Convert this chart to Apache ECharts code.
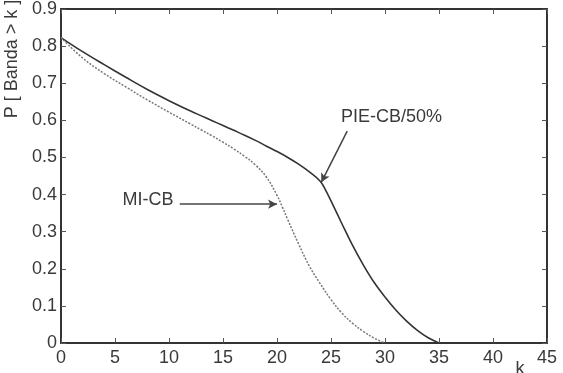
<!DOCTYPE html>
<html><head><meta charset="utf-8">
<script src="https://cdn.jsdelivr.net/npm/echarts@6/dist/echarts.min.js"></script>
<style>html,body{margin:0;padding:0;background:#fff}#c{width:563px;height:373px}</style>
</head><body><div id="c"></div>
<script>
// Data
var pieK = [0, 2, 4, 6, 8, 10, 12, 13, 14, 15, 16, 17, 18, 19, 20, 21, 22, 23, 24, 24.5, 25, 26, 27, 28, 29, 30, 31, 32, 33, 34, 35];
var pieP = [0.823, 0.785, 0.75, 0.716, 0.683, 0.653, 0.625, 0.612, 0.599, 0.586, 0.573, 0.56, 0.546, 0.531, 0.516, 0.5, 0.482, 0.461, 0.436, 0.412, 0.383, 0.322, 0.263, 0.21, 0.163, 0.124, 0.089, 0.059, 0.034, 0.014, 0.0];
var miK = [0, 2, 4, 6, 8, 10, 12, 13, 14, 15, 16, 17, 18, 19, 20, 20.5, 21, 22, 23, 24, 25, 26, 27, 28, 29, 30];
var miP = [0.823, 0.768, 0.726, 0.69, 0.655, 0.622, 0.59, 0.574, 0.558, 0.541, 0.523, 0.503, 0.48, 0.448, 0.398, 0.366, 0.332, 0.267, 0.207, 0.16, 0.117, 0.081, 0.053, 0.031, 0.013, 0.0];
var xTicks = ['0','5','10','15','20','25','30','35','40','45'];
var yTicks = ['0','0.1','0.2','0.3','0.4','0.5','0.6','0.7','0.8','0.9'];
var seriesNames = ['PIE-CB/50%', 'MI-CB'];
var labelPos = [[30.6, 0.608], [8.06, 0.385]];
var arrowFrom = [[26.5, 0.571], [11.0, 0.374]];
var arrowTo = [[24.1, 0.433], [20.0, 0.374]];
var yName = 'P [ Banda > k ]';
var xName = 'k';

function zip(a, b) { return a.map(function (v, i) { return [v, b[i]]; }); }

var font = 'Liberation Sans, Arial, sans-serif';
var txtColor = '#3a3a3a';
var chart = echarts.init(document.getElementById('c'), null, {renderer: 'canvas'});

function frameAxis(pos, isX, show) {
  return {
    type: 'value', position: pos, min: 0, max: isX ? 45 : 0.9, interval: isX ? 5 : 0.1,
    axisLine: {show: true, onZero: false, lineStyle: {color: '#333', width: 2}},
    axisTick: {show: true, inside: true, length: 5, lineStyle: {color: '#555', width: 1}},
    splitLine: {show: false},
    axisLabel: {show: show, color: txtColor, fontSize: 18, fontFamily: font, margin: isX ? 6 : 4,
      formatter: function (v) {
        var idx = Math.round(isX ? v / 5 : v * 10);
        return isX ? xTicks[idx] : yTicks[idx];
      }}
  };
}

var arrowLine = function (i) {
  return {
    silent: true, symbol: ['none', 'arrow'], symbolSize: [7, 9],
    label: {show: false},
    lineStyle: {color: '#444', width: 1.5, type: 'solid'},
    data: [[{coord: arrowFrom[i]}, {coord: arrowTo[i]}]]
  };
};
var namePoint = function (i) {
  return {
    silent: true, symbol: 'circle', symbolSize: 0,
    label: {show: true, position: 'inside', formatter: seriesNames[i], color: txtColor, fontSize: 18, fontFamily: font},
    data: [{coord: labelPos[i]}]
  };
};

chart.setOption({
  animation: false,
  backgroundColor: '#fff',
  grid: {left: 61, right: 16, top: 7, bottom: 30, containLabel: false},
  xAxis: [frameAxis('bottom', true, true), frameAxis('top', true, false)],
  yAxis: [frameAxis('left', false, true), frameAxis('right', false, false)],
  graphic: [
    {type: 'text', x: 12, y: 59, rotation: Math.PI / 2,
      style: {text: yName, fill: txtColor, font: '18px ' + font, textAlign: 'center', textVerticalAlign: 'middle'}},
    {type: 'text', x: 520, y: 369,
      style: {text: xName, fill: txtColor, font: '18px ' + font, textAlign: 'center', textVerticalAlign: 'middle'}}
  ],
  series: [
    {name: seriesNames[0], type: 'line', smooth: 0.4, showSymbol: false, data: zip(pieK, pieP),
      lineStyle: {color: '#333', width: 1.6},
      markLine: arrowLine(0), markPoint: namePoint(0)},
    {name: seriesNames[1], type: 'line', smooth: 0.4, showSymbol: false, data: zip(miK, miP),
      lineStyle: {color: '#777', width: 1.5, type: [2, 1.5]},
      markLine: arrowLine(1), markPoint: namePoint(1)}
  ]
});
</script></body></html>
